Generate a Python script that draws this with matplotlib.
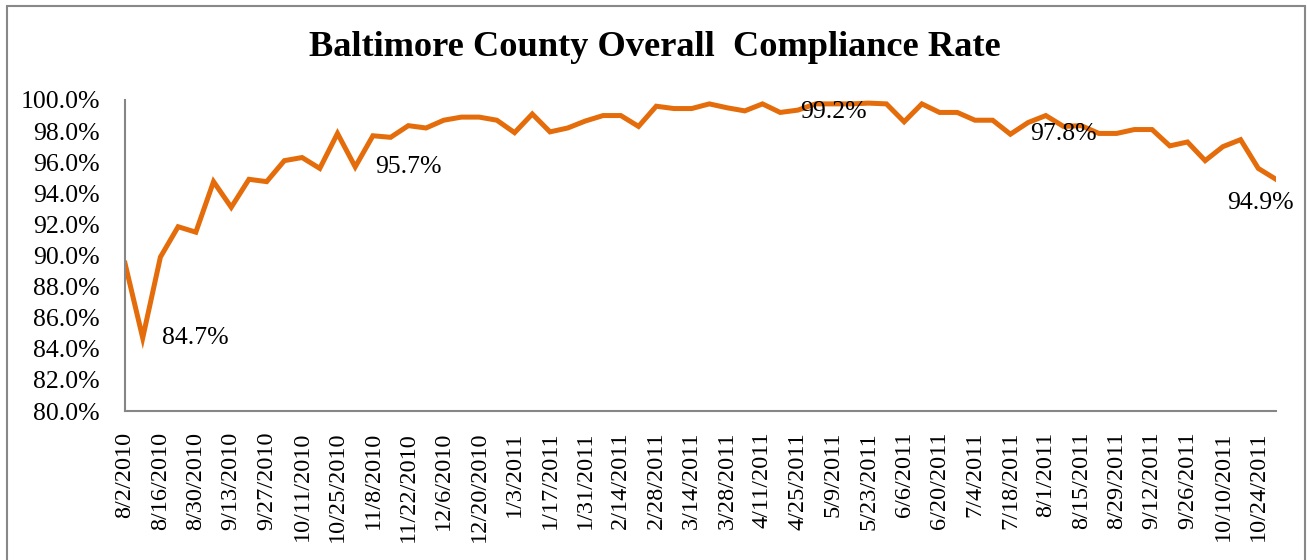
import matplotlib.pyplot as plt
import matplotlib.patches as patches
import numpy as np

# weekly compliance rate, 8/2/2010 .. 10/31/2011
rate = [89.5, 84.7, 89.9, 91.85, 91.5, 94.75, 93.1, 94.9, 94.75, 96.1,
        96.3, 95.6, 97.85, 95.7, 97.7, 97.6, 98.35, 98.2, 98.7, 98.9,
        98.9, 98.7, 97.9, 99.1, 97.95, 98.2, 98.65, 99.0, 99.0, 98.3,
        99.6, 99.45, 99.45, 99.75, 99.5, 99.3, 99.75, 99.2, 99.35, 99.75,
        99.75, 99.75, 99.8, 99.75, 98.6, 99.75, 99.2, 99.2, 98.7, 98.7,
        97.8, 98.55, 99.0, 98.3, 98.35, 97.85, 97.85, 98.1, 98.1, 97.05,
        97.3, 96.1, 97.0, 97.45, 95.6, 94.9]

tick_labels = ['8/2/2010', '8/16/2010', '8/30/2010', '9/13/2010', '9/27/2010',
               '10/11/2010', '10/25/2010', '11/8/2010', '11/22/2010', '12/6/2010',
               '12/20/2010', '1/3/2011', '1/17/2011', '1/31/2011', '2/14/2011',
               '2/28/2011', '3/14/2011', '3/28/2011', '4/11/2011', '4/25/2011',
               '5/9/2011', '5/23/2011', '6/6/2011', '6/20/2011', '7/4/2011',
               '7/18/2011', '8/1/2011', '8/15/2011', '8/29/2011', '9/12/2011',
               '9/26/2011', '10/10/2011', '10/24/2011']

# points that carry a value label
labelled = [1, 13, 37, 50, 65]

plt.rcParams['font.family'] = ['Liberation Serif', 'DejaVu Serif']

fig = plt.figure(figsize=(13.07, 5.6), dpi=100)
ax = fig.add_axes([125/1307, 1 - 411/560, (1276 - 125)/1307, (411 - 100)/560])

x = np.arange(len(rate))
ax.plot(x, rate, color='#E46C0A', lw=3.6, solid_joinstyle='miter')

ax.set_xlim(0, len(rate) - 1)
ax.set_ylim(80, 100)
ax.set_yticks(np.arange(80, 100.1, 2))
ax.set_yticklabels(['%.1f%%' % v for v in np.arange(80, 100.1, 2)])
ax.set_xticks(x[::2])
ax.set_xticklabels(tick_labels, rotation=90)
ax.tick_params(axis='y', length=0, pad=18, labelsize=18.5)
ax.tick_params(axis='x', length=0, pad=15, labelsize=17.5)

ax.spines[['right', 'top']].set_visible(False)
ax.spines[['left', 'bottom']].set_color('#868686')
ax.spines[['left', 'bottom']].set_linewidth(1.5)

for i in labelled:
    if i == len(rate) - 1:
        ax.annotate('%.1f%%' % rate[i], (i, rate[i]), xytext=(-11, -17),
                    textcoords='offset points', ha='center', va='center', fontsize=18.5)
    else:
        ax.annotate('%.1f%%' % rate[i], (i, rate[i]), xytext=(14, 0),
                    textcoords='offset points', ha='left', va='center', fontsize=18.5)

fig.text(655/1307, 1 - 48/560, 'Baltimore County Overall  Compliance Rate',
         ha='center', va='center', fontsize=26.2, fontweight='bold')

# chart border
fig.patches.append(patches.Rectangle((7/1307, -0.1), (1305 - 7)/1307, 1 - 6/560 + 0.1,
                                     transform=fig.transFigure, fill=False,
                                     edgecolor='#888888', lw=1.5))

fig.savefig('out.png', dpi=100)
